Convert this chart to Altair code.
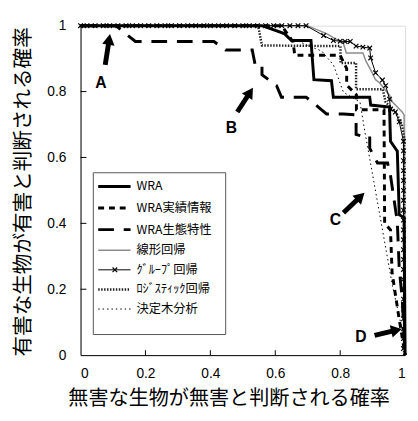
import math
import altair as alt
import pandas as pd

W, H = 331, 336

series_names = ["WRA", "WRA実績情報", "WRA生態特性", "線形回帰", "ｸﾞﾙｰﾌﾟ回帰", "ﾛｼﾞｽﾃｨｯｸ回帰", "決定木分析"]

wra_x = [0, 0.559, 0.628, 0.650, 0.710, 0.719, 0.773, 0.779, 0.891, 0.894, 0.952, 0.955, 0.976, 0.982, 0.997, 1.0]
wra_y = [1, 1, 0.976, 0.955, 0.955, 0.836, 0.833, 0.783, 0.783, 0.759, 0.753, 0.649, 0.619, 0.426, 0.417, 0.0]

jis_x = [0, 0.62, 0.655, 0.66, 0.80, 0.82, 0.82, 0.85, 0.85, 0.935, 0.937, 0.955, 0.96, 0.98, 1.0]
jis_y = [1, 1, 0.95, 0.91, 0.91, 0.87, 0.82, 0.79, 0.745, 0.745, 0.40, 0.38, 0.25, 0.12, 0.0]

eco_x = [0, 0.109, 0.169, 0.411, 0.447, 0.529, 0.538, 0.559, 0.559, 0.604, 0.619, 0.695, 0.740, 0.758,
         0.810, 0.849, 0.849, 0.870, 0.891, 0.891, 0.915, 0.946, 0.955, 0.976, 0.982, 0.991, 1.0]
eco_y = [1, 1, 0.952, 0.952, 0.926, 0.926, 0.881, 0.881, 0.851, 0.818, 0.783, 0.783, 0.747, 0.732,
         0.732, 0.729, 0.670, 0.664, 0.664, 0.628, 0.583, 0.583, 0.545, 0.405, 0.262, 0.173, 0.0]

lin_x = [0, 0.698, 0.758, 0.81, 0.819, 0.870, 0.879, 0.894, 0.909, 0.921, 0.952, 0.961, 0.991, 0.997, 1.0]
lin_y = [1, 1, 0.976, 0.946, 0.917, 0.917, 0.893, 0.866, 0.836, 0.827, 0.789, 0.768, 0.738, 0.729, 0.0]

grp_x = [0, 0.02, 0.045, 0.07, 0.09, 0.115, 0.14, 0.16, 0.185, 0.21, 0.235, 0.26, 0.28, 0.305, 0.33,
         0.355, 0.38, 0.40, 0.425, 0.45, 0.475, 0.50, 0.52, 0.545, 0.57, 0.595, 0.62, 0.645, 0.67, 0.695,
         0.749, 0.779, 0.80, 0.815, 0.831, 0.849, 0.87, 0.891, 0.894, 0.909, 0.93, 0.940, 0.952, 0.955,
         0.97, 0.982, 0.995, 0.995, 0.995, 0.995, 0.995, 0.995, 0.995, 0.995, 0.995, 0.995, 0.995, 0.995,
         0.995, 0.995, 0.995, 0.995, 0.995, 0.995, 0.995, 0.995, 0.995, 0.995]
grp_y = [1, 1, 1, 1, 1, 1, 1, 1, 1, 1, 1, 1, 1, 1, 1,
         1, 1, 1, 1, 1, 1, 1, 1, 1, 1, 1, 1, 1, 1, 1,
         0.970, 0.955, 0.953, 0.952, 0.952, 0.938, 0.935, 0.932, 0.902, 0.857, 0.835, 0.818, 0.777, 0.747,
         0.738, 0.708, 0.649, 0.62, 0.59, 0.56, 0.53, 0.50, 0.47, 0.44, 0.41, 0.38, 0.35, 0.32,
         0.29, 0.26, 0.23, 0.20, 0.17, 0.14, 0.11, 0.08, 0.05, 0.02]

log_x = [0, 0.547, 0.559, 0.801, 0.801, 0.849, 0.849, 0.931, 0.94, 0.97, 0.99, 0.997, 0.997]
log_y = [1, 1, 0.940, 0.938, 0.887, 0.887, 0.807, 0.807, 0.768, 0.74, 0.70, 0.66, 0.0]

dt_x = [0, 0.55, 0.60, 0.70, 0.743, 0.779, 0.81, 0.861, 0.876, 0.961, 0.991, 1.0]
dt_y = [1, 1, 0.985, 0.94, 0.923, 0.881, 0.798, 0.768, 0.679, 0.211, 0.077, 0.0]

tick_values = [0, 0.2, 0.4, 0.6, 0.8, 1]
inner_ticks = [0.2, 0.4, 0.6, 0.8]

ann_labels = ["A", "B", "C", "D"]
ann_x = [0.063, 0.465, 0.785, 0.864]
ann_y = [0.827, 0.688, 0.411, 0.054]
arrow_from_x = [0.076, 0.483, 0.810, 0.906]
arrow_from_y = [0.881, 0.738, 0.432, 0.060]
arrow_tip_x = [0.091, 0.532, 0.876, 0.991]
arrow_tip_y = [0.976, 0.813, 0.494, 0.080]

x_title = "無害な生物が無害と判断される確率"
y_title = "有害な生物が有害と判断される確率"

# ---------------------------------------------------------------
series_data = [(wra_x, wra_y), (jis_x, jis_y), (eco_x, eco_y), (lin_x, lin_y),
               (grp_x, grp_y), (log_x, log_y), (dt_x, dt_y)]
rows = []
for name, (xs, ys) in zip(series_names, series_data):
    for i, (a, b) in enumerate(zip(xs, ys)):
        rows.append({"s": name, "i": i, "x": a, "y": b})
df = pd.DataFrame(rows)

X = alt.X("x:Q", scale=alt.Scale(domain=[0, 1], nice=False, zero=False),
          axis=alt.Axis(values=tick_values, format="~g", tickSize=0, grid=False,
                        labelFont="Liberation Sans", labelFontSize=14, labelColor="black",
                        labelPadding=12, domainColor="black", domainWidth=1,
                        title=x_title, titleFont="Noto Sans CJK JP", titleFontSize=20.5,
                        titleFontWeight="normal", titleColor="black",
                        titleX=151, titleY=44, titleAlign="center", titleBaseline="middle"))
Y = alt.Y("y:Q", scale=alt.Scale(domain=[0, 1], nice=False, zero=False),
          axis=alt.Axis(values=tick_values, format="~g", tickSize=0, grid=False,
                        labelFont="Liberation Sans", labelFontSize=14, labelColor="black",
                        labelPadding=15, domainColor="black", domainWidth=1,
                        title=y_title, titleFont="Noto Sans CJK JP", titleFontSize=21,
                        titleFontWeight="normal", titleColor="black", titleAngle=270,
                        titleX=-58, titleY=H / 2 + 1, titleAlign="center", titleBaseline="middle"))

styles = {
    "WRA": dict(color="black", strokeWidth=3),
    "WRA実績情報": dict(color="black", strokeWidth=3, strokeDash=[6, 5]),
    "WRA生態特性": dict(color="black", strokeWidth=3, strokeDash=[16, 10]),
    "線形回帰": dict(color="#8c8c8c", strokeWidth=1.5),
    "ｸﾞﾙｰﾌﾟ回帰": dict(color="black", strokeWidth=1),
    "ﾛｼﾞｽﾃｨｯｸ回帰": dict(color="#222222", strokeWidth=2.5, strokeDash=[1.5, 1.5]),
    "決定木分析": dict(color="black", strokeWidth=1, strokeDash=[1.5, 3]),
}
x_shape = "M-1,-1L1,1M-1,1L1,-1"

layers = []
# inner ticks
layers.append(alt.Chart(pd.DataFrame({"x": inner_ticks})).mark_rule(color="black", strokeWidth=1)
              .encode(x=X, y=alt.value(H), y2=alt.value(H - 5)))
layers.append(alt.Chart(pd.DataFrame({"y": inner_ticks})).mark_rule(color="black", strokeWidth=1)
              .encode(y=Y, x=alt.value(0), x2=alt.value(6)))

draw_order = ["決定木分析", "線形回帰", "ﾛｼﾞｽﾃｨｯｸ回帰", "WRA生態特性", "WRA実績情報", "WRA", "ｸﾞﾙｰﾌﾟ回帰"]
for name in draw_order:
    layers.append(alt.Chart(df).transform_filter(alt.datum.s == name)
                  .mark_line(clip=False, **styles[name])
                  .encode(x=X, y=Y, order="i:Q"))
layers.append(alt.Chart(df).transform_filter(alt.datum.s == "ｸﾞﾙｰﾌﾟ回帰")
              .mark_point(shape=x_shape, size=22, color="black", strokeWidth=1.2, filled=False, opacity=1)
              .encode(x=X, y=Y))

# legend (layout positions in pixels)
leg_box = dict(x0=13, x1=148, y0=150, y1=315)
leg_y = [164, 186, 208, 229, 249, 269, 289]
layers.append(alt.Chart(pd.DataFrame({"x": [0]})).mark_rect(fill="white", stroke="#555", strokeWidth=1)
              .encode(x=alt.value(leg_box["x0"]), x2=alt.value(leg_box["x1"]),
                      y=alt.value(leg_box["y0"]), y2=alt.value(leg_box["y1"])))
for name, ly in zip(series_names, leg_y):
    layers.append(alt.Chart(pd.DataFrame({"x": [0]})).mark_rule(**styles[name])
                  .encode(x=alt.value(18), x2=alt.value(51), y=alt.value(ly)))
layers.append(alt.Chart(pd.DataFrame({"x": [0]})).mark_point(shape=x_shape, size=22, filled=False,
                                                             color="black", strokeWidth=1.2, opacity=1)
              .encode(x=alt.value(35), y=alt.value(leg_y[4])))
leg_df = pd.DataFrame({"label": series_names, "ly": leg_y})
layers.append(alt.Chart(leg_df).mark_text(align="left", baseline="middle", font="Noto Sans CJK JP",
                                          fontSize=12.5, color="black")
              .encode(text="label:N", x=alt.value(57), y=alt.Y("ly:Q", scale=None)))

# annotations
ann_df = pd.DataFrame({"x": ann_x, "y": ann_y, "label": ann_labels})
layers.append(alt.Chart(ann_df).mark_text(font="Liberation Sans", fontWeight="bold", fontSize=16,
                                          color="black", baseline="middle", align="center")
              .encode(x=X, y=Y, text="label:N"))

arrow_rows, head_rows = [], []
head_r = 6
for k in range(len(ann_labels)):
    fx, fy = arrow_from_x[k] * W, (1 - arrow_from_y[k]) * H
    tx, ty = arrow_tip_x[k] * W, (1 - arrow_tip_y[k]) * H
    dx, dy = tx - fx, ty - fy
    L = math.hypot(dx, dy)
    cx, cy = tx - dx / L * head_r, ty - dy / L * head_r
    ang = math.degrees(math.atan2(dx, -dy)) % 360
    arrow_rows += [{"k": k, "j": 0, "x": arrow_from_x[k], "y": arrow_from_y[k]},
                   {"k": k, "j": 1, "x": cx / W, "y": 1 - cy / H}]
    head_rows.append({"x": cx / W, "y": 1 - cy / H, "ang": ang})
layers.append(alt.Chart(pd.DataFrame(arrow_rows)).mark_line(color="black", strokeWidth=5)
              .encode(x=X, y=Y, detail="k:N", order="j:Q"))
for h in head_rows:
    layers.append(alt.Chart(pd.DataFrame([h])).mark_point(shape="triangle-up", size=160, filled=True,
                                                          color="black", opacity=1, angle=h["ang"])
                  .encode(x=X, y=Y))

chart = alt.layer(*layers).properties(
    width=W, height=H, autosize="none",
    padding={"left": 74, "top": 14, "right": 5, "bottom": 55},
).configure_view(stroke="#333", strokeWidth=1).configure(background="white")

chart.save("out.html", embed_options={"renderer": "svg", "actions": False})
